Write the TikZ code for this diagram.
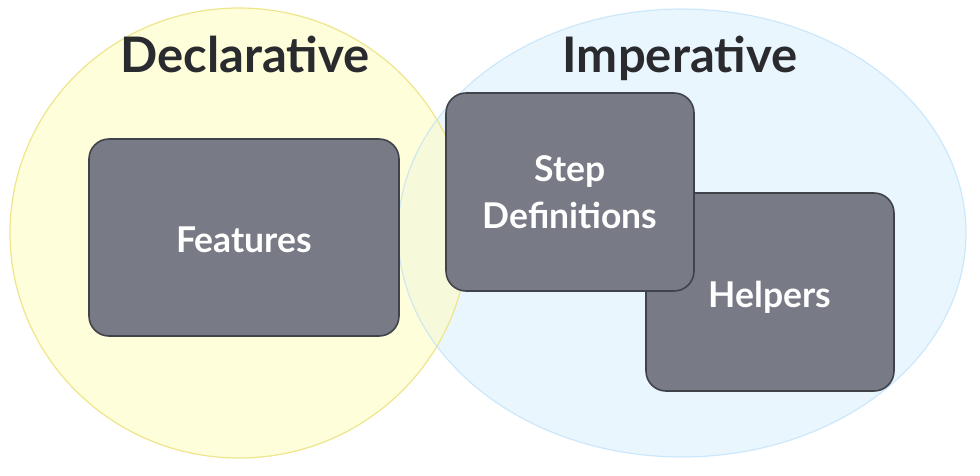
\documentclass[tikz,border=0pt]{standalone}
\usepackage{fontspec}
\setmainfont{Lato}
\definecolor{declfill}{HTML}{FDFDCB}
\definecolor{decldraw}{HTML}{EFE58C}
\definecolor{impfill}{HTML}{EAF6FE}
\definecolor{impdraw}{HTML}{B3DCFA}
\definecolor{boxfill}{HTML}{787B86}
\definecolor{boxdraw}{HTML}{40434A}
\definecolor{titletext}{HTML}{2A2B2E}
\begin{document}
\begin{tikzpicture}[x=1pt,y=-1pt]
	\tikzstyle{codebox}=[fill=boxfill,draw=boxdraw,line width=1.6pt,rounded corners=20pt,
		text=white,font=\fontsize{35.5}{47}\selectfont\bfseries,align=center,inner sep=0pt]
	\tikzstyle{settitle}=[font=\fontsize{49}{55}\selectfont\bfseries,text=titletext,anchor=base,inner sep=0pt]
	\useasboundingbox (0,0) rectangle (980,475);
	% the two sets
	\fill[impfill] (682,233) ellipse [x radius=284,y radius=224];
	\fill[declfill,fill opacity=0.7] (239,233) ellipse [x radius=229,y radius=225];
	\draw[decldraw,line width=1.2pt] (239,233) ellipse [x radius=229,y radius=225];
	\draw[impdraw,line width=1.2pt,opacity=0.6] (682,233) ellipse [x radius=284,y radius=224];
	\node[settitle] (declarative) at (245,72) {Declarative};
	\node[settitle] (imperative) at (680,72) {Imperative};
	% the boxes
	\node[codebox,minimum width=310pt,minimum height=197pt] (features) at (244,237.5) {\raisebox{-14.5pt}[0pt][0pt]{Features}};
	\node[codebox,minimum width=248pt,minimum height=198pt] (helpers) at (770,292) {\raisebox{-15pt}[0pt][0pt]{Helpers}};
	\node[codebox,minimum width=248pt,minimum height=198pt] (stepdefs) at (570,192) {Step\\Definitions};
\end{tikzpicture}
\end{document}
